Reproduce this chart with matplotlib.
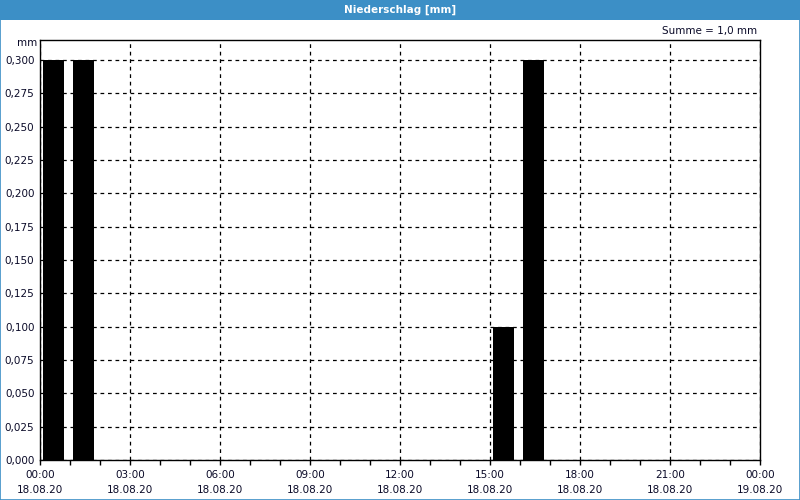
import matplotlib
matplotlib.use("Agg")
import matplotlib.pyplot as plt
from matplotlib.patches import Rectangle

# hourly precipitation, 18.08.20 (start hour of each interval)
start_hours = [0, 1, 15, 16]
precip_mm = [0.3, 0.3, 0.1, 0.3]
total_label = "Summe = 1,0 mm"

x_tick_hours = [0, 3, 6, 9, 12, 15, 18, 21, 24]
x_tick_times = ["00:00", "03:00", "06:00", "09:00", "12:00", "15:00", "18:00", "21:00", "00:00"]
x_tick_dates = ["18.08.20"] * 8 + ["19.08.20"]
y_ticks = [0.0, 0.025, 0.05, 0.075, 0.1, 0.125, 0.15, 0.175, 0.2, 0.225, 0.25, 0.275, 0.3]

blue = "#3c8fc6"
txt = "#0a0a28"
fs = 7.5

fig = plt.figure(figsize=(8, 5), dpi=100)
fig.patch.set_facecolor("white")

# title bar and frame
fig.patches.append(Rectangle((0, 0.96), 1, 0.04, transform=fig.transFigure,
                             facecolor=blue, edgecolor="none", zorder=0))
fig.patches.append(Rectangle((0.0006, 0.001), 0.9988, 0.998, transform=fig.transFigure,
                             facecolor="none", edgecolor=blue, linewidth=1.2, zorder=5))
fig.text(0.5, 0.981, "Niederschlag [mm]", ha="center", va="center",
         color="white", fontsize=fs, fontweight="bold")
fig.text(0.946, 0.938, total_label, ha="right", va="center", color=txt, fontsize=fs)

ax = fig.add_axes([0.05, 0.08, 0.90, 0.84])
ax.bar([h + 0.1 for h in start_hours], precip_mm, width=0.7, align="edge",
       color="black", zorder=3)

ax.set_xlim(0, 24)
ax.set_ylim(0, 0.315)
ax.set_xticks(x_tick_hours)
ax.set_xticklabels([f"{t}\n{d}" for t, d in zip(x_tick_times, x_tick_dates)],
                   linespacing=1.6)
ax.set_xticks(range(25), minor=True)
ax.set_yticks(y_ticks)
ax.set_yticklabels([f"{v:.3f}".replace(".", ",") for v in y_ticks])

ax.tick_params(axis="x", which="both", direction="out", length=3.5, width=1,
               pad=3.5, labelsize=fs, labelcolor=txt)
ax.tick_params(axis="y", which="both", length=0, pad=4, labelsize=fs, labelcolor=txt)

ax.grid(True, which="major", color="black", linestyle=(0, (3, 3)), linewidth=0.9)
ax.set_axisbelow(True)
for s in ax.spines.values():
    s.set_color("black")
    s.set_linewidth(1)

ax.text(-0.004, 0.3 + 0.0125, "mm", transform=ax.get_yaxis_transform(),
        ha="right", va="center", fontsize=fs, color=txt)

fig.savefig("out.png", dpi=100)
